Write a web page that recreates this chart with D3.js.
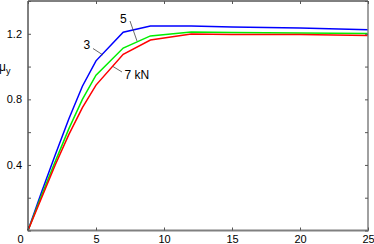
<!DOCTYPE html>
<html><head><meta charset="utf-8">
<script src="https://cdn.jsdelivr.net/npm/d3@7"></script>
<style>html,body{margin:0;padding:0;background:#fff;}svg{display:block;font-family:"Liberation Sans",Arial,sans-serif;}</style>
</head><body>
<svg id="c" width="374" height="244"></svg>
<script>
const xs = [0, 1, 2, 3, 4, 5, 7, 9, 12, 15, 20, 25];
const load3 = [0, 0.235, 0.46, 0.68, 0.88, 1.035, 1.21, 1.248, 1.248, 1.242, 1.235, 1.225];
const load5 = [0, 0.215, 0.42, 0.62, 0.80, 0.948, 1.113, 1.187, 1.211, 1.208, 1.205, 1.202];
const load7 = [0, 0.20, 0.40, 0.585, 0.75, 0.887, 1.075, 1.162, 1.199, 1.196, 1.195, 1.19];
const xTicks = [0, 5, 10, 15, 20, 25];
const yTicks = [0, 0.2, 0.4, 0.6, 0.8, 1.0, 1.2, 1.4];
const yLabels = [0.4, 0.8, 1.2];

const svg = d3.select("#c");
const x = d3.scaleLinear().domain([0, 25]).range([28, 368]);
const y = d3.scaleLinear().domain([0, 1.4]).range([230.5, 1]);

const series = [
  {v: load3, c: "#0000ff"},
  {v: load5, c: "#00ee00"},
  {v: load7, c: "#ff0000"}
];
const line = d3.line().x((d, i) => x(xs[i])).y(d => y(d));
series.forEach(s => {
  svg.append("path").attr("d", line(s.v)).attr("fill", "none")
    .attr("stroke", s.c).attr("stroke-width", 1.5);
});

// frame
const g = svg.append("g");
g.append("line").attr("x1", x(0)).attr("x2", x(25)).attr("y1", y(1.4)).attr("y2", y(1.4)).attr("stroke", "#000").attr("stroke-width", 1);
g.append("line").attr("x1", x(0)).attr("x2", x(0)).attr("y1", y(1.4)).attr("y2", y(0)).attr("stroke", "#000").attr("stroke-width", 1);
g.append("line").attr("x1", x(25)).attr("x2", x(25)).attr("y1", y(1.4)).attr("y2", y(0)).attr("stroke", "#808080").attr("stroke-width", 1.5);
g.append("line").attr("x1", x(0) - 0.5).attr("x2", x(25) + 0.75).attr("y1", y(0)).attr("y2", y(0)).attr("stroke", "#808080").attr("stroke-width", 2);

// ticks via axes
const ax = svg.append("g").attr("transform", `translate(0,${y(0)})`)
  .call(d3.axisBottom(x).tickValues(xTicks).tickSize(-3).tickPadding(5).tickFormat(d3.format("d")));
const axTop = svg.append("g").attr("transform", `translate(0,${y(1.4)})`)
  .call(d3.axisTop(x).tickValues(xTicks).tickSize(-3).tickFormat(""));
const ay = svg.append("g").attr("transform", `translate(${x(0)},0)`)
  .call(d3.axisLeft(y).tickValues(yTicks).tickSize(-3).tickPadding(6)
    .tickFormat(d => yLabels.some(v => Math.abs(v - d) < 1e-9) ? d3.format(".1f")(d) : ""));
const ayR = svg.append("g").attr("transform", `translate(${x(25)},0)`)
  .call(d3.axisRight(y).tickValues(yTicks).tickSize(-3).tickFormat(""));
[ax, axTop, ay, ayR].forEach(a => {
  a.select(".domain").remove();
  a.selectAll(".tick line").attr("stroke", "#555");
  a.selectAll("text").attr("font-size", 11).attr("fill", "#000")
    .attr("font-family", "Liberation Sans, Arial, sans-serif");
});
ax.selectAll(".tick").filter(d => d === 0).select("text").attr("dx", -8);

// y label
const yl = svg.append("text").attr("x", -1).attr("y", 71).attr("font-size", 12)
  .attr("font-family", "Liberation Sans, Arial, sans-serif");
yl.append("tspan").text("μ");
yl.append("tspan").attr("font-size", 9).attr("dy", 3).text("y");

// annotations
const ann = svg.append("g").attr("font-size", 12).attr("font-family", "Liberation Sans, Arial, sans-serif");
ann.append("text").attr("x", 120).attr("y", 23).text("5");
ann.append("line").attr("x1", 130).attr("y1", 21).attr("x2", 137).attr("y2", 41).attr("stroke", "#444").attr("stroke-width", 0.8);
ann.append("text").attr("x", 83.5).attr("y", 48.5).text("3");
ann.append("line").attr("x1", 93).attr("y1", 48.5).attr("x2", 103).attr("y2", 55).attr("stroke", "#444").attr("stroke-width", 0.8);
ann.append("text").attr("x", 124.5).attr("y", 78.5).text("7 kN");
ann.append("line").attr("x1", 113).attr("y1", 66.5).attr("x2", 122).attr("y2", 72).attr("stroke", "#444").attr("stroke-width", 0.8);
</script>
</body></html>
